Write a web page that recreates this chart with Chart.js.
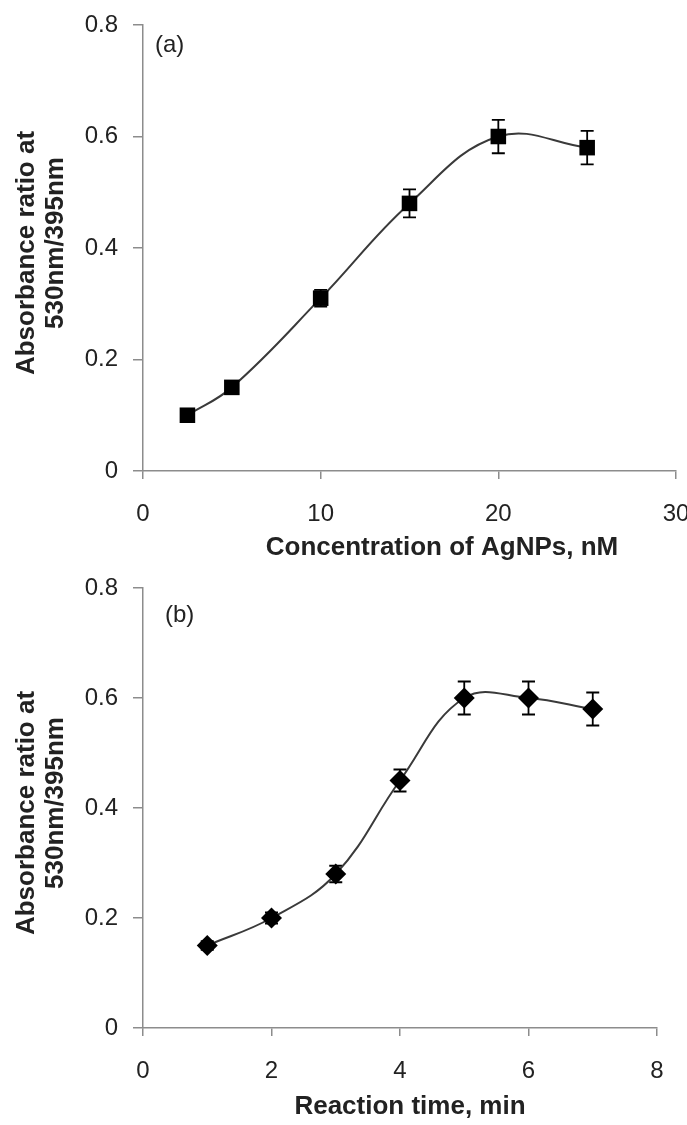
<!DOCTYPE html>
<html>
<head>
<meta charset="utf-8">
<script src="https://cdn.jsdelivr.net/npm/chart.js@4/dist/chart.umd.min.js"></script>
<style>
  html, body { margin: 0; padding: 0; background: #fff; }
  .panel { position: absolute; left: 0; width: 687px; }
  #wrapA { top: 0; height: 560px; }
  #wrapB { top: 560px; height: 565px; }
</style>
</head>
<body>
<div class="panel" id="wrapA"><canvas id="chartA" width="687" height="560"></canvas></div>
<div class="panel" id="wrapB"><canvas id="chartB" width="687" height="565"></canvas></div>
<script>
// Panel (a): ratio vs AgNPs concentration
const concNM = [2.5, 5, 10, 15, 20, 25];
const ratioA = [0.10, 0.15, 0.31, 0.48, 0.60, 0.58];
const errA = [0.008, 0.008, 0.015, 0.025, 0.03, 0.03];

// Panel (b): ratio vs reaction time
const timeMin = [1, 2, 3, 4, 5, 6, 7];
const ratioB = [0.15, 0.20, 0.28, 0.45, 0.60, 0.60, 0.58];
const errB = [0.008, 0.01, 0.015, 0.02, 0.03, 0.03, 0.03];

const yTitleLines = ['Absorbance ratio at', '530nm/395nm'];

const FONT = '"Liberation Sans", Arial, sans-serif';
const AXIS_GREY = '#8c8c8c';
const TEXT = '#222';

// draws the error bars from the data arrays through the chart scales
const errorBars = {
  id: 'errorBars',
  beforeDatasetsDraw(chart, args, opts) {
    const { ctx, scales } = chart;
    const xs = opts.x, ys = opts.y, es = opts.err;
    ctx.save();
    ctx.strokeStyle = '#000';
    ctx.lineWidth = 1.8;
    for (let i = 0; i < xs.length; i++) {
      const px = scales.x.getPixelForValue(xs[i]);
      const top = scales.y.getPixelForValue(ys[i] + es[i]);
      const bot = scales.y.getPixelForValue(ys[i] - es[i]);
      ctx.beginPath();
      ctx.moveTo(px, top); ctx.lineTo(px, bot);
      ctx.moveTo(px - 6.5, top); ctx.lineTo(px + 6.5, top);
      ctx.moveTo(px - 6.5, bot); ctx.lineTo(px + 6.5, bot);
      ctx.stroke();
    }
    ctx.restore();
  }
};

// axis titles and the panel letter
const labels = {
  id: 'labels',
  afterDraw(chart, args, opts) {
    const { ctx, chartArea } = chart;
    ctx.save();
    ctx.fillStyle = TEXT;
    ctx.textAlign = 'center';
    ctx.textBaseline = 'middle';
    ctx.font = 'bold 26px ' + FONT;
    ctx.fillText(opts.xTitle, opts.xTitleX, opts.xTitleY);
    const cy = (chartArea.top + chartArea.bottom) / 2;
    opts.yTitle.forEach((line, i) => {
      ctx.save();
      ctx.translate(27 + i * 29, cy + (i === 0 ? 5 : -5));
      ctx.rotate(-Math.PI / 2);
      ctx.fillText(line, 0, 0);
      ctx.restore();
    });
    ctx.font = '24px ' + FONT;
    ctx.textAlign = 'left';
    ctx.fillText(opts.panel, opts.panelX, opts.panelY);
    ctx.restore();
  }
};

function makeChart(id, xs, ys, es, cfg) {
  const canvas = document.getElementById(id);
  const H = canvas.height;
  return new Chart(canvas, {
    type: 'line',
    data: {
      datasets: [{
        data: xs.map((x, i) => ({ x: x, y: ys[i] })),
        borderColor: '#3a3a3a',
        borderWidth: 2,
        tension: 0.4,
        fill: false,
        pointStyle: cfg.pointStyle,
        pointRadius: cfg.pointRadius,
        pointBackgroundColor: '#000',
        pointBorderColor: '#000',
        pointBorderWidth: 0
      }]
    },
    options: {
      responsive: false,
      animation: false,
      events: [],
      layout: { padding: { top: cfg.top, right: cfg.right, left: 0, bottom: 0 } },
      plugins: {
        legend: { display: false },
        tooltip: { enabled: false },
        errorBars: { x: xs, y: ys, err: es },
        labels: cfg.labels
      },
      scales: {
        x: {
          type: 'linear',
          min: 0, max: cfg.xMax,
          ticks: { stepSize: cfg.xStep, padding: 21, color: TEXT, font: { family: FONT, size: 24 }, maxRotation: 0 },
          grid: { drawOnChartArea: false, drawTicks: true, tickLength: 8, color: AXIS_GREY, lineWidth: 1.5 },
          border: { display: true, color: AXIS_GREY, width: 1.5 },
          afterFit(s) { s.height = H - cfg.bottom; s.paddingLeft = 0; s.paddingRight = 0; }
        },
        y: {
          min: 0, max: 0.8,
          ticks: { stepSize: 0.2, padding: 15, color: TEXT, font: { family: FONT, size: 24 } },
          grid: { drawOnChartArea: false, drawTicks: true, tickLength: 10, color: AXIS_GREY, lineWidth: 1.5 },
          border: { display: true, color: AXIS_GREY, width: 1.5 },
          afterFit(s) { s.width = 143; s.paddingTop = 0; s.paddingBottom = 0; }
        }
      }
    },
    plugins: [errorBars, labels]
  });
}

makeChart('chartA', concNM, ratioA, errA, {
  pointStyle: 'rect', pointRadius: 11,
  xMax: 30, xStep: 10, top: 25, bottom: 471, right: 11,
  labels: { xTitle: 'Concentration of AgNPs, nM', xTitleX: 442, xTitleY: 548,
            yTitle: yTitleLines, panel: '(a)', panelX: 155, panelY: 45 }
});

makeChart('chartB', timeMin, ratioB, errB, {
  pointStyle: 'rectRot', pointRadius: 10.5,
  xMax: 8, xStep: 2, top: 28, bottom: 468, right: 30,
  labels: { xTitle: 'Reaction time, min', xTitleX: 410, xTitleY: 547,
            yTitle: yTitleLines, panel: '(b)', panelX: 165, panelY: 55 }
});
</script>
</body>
</html>
